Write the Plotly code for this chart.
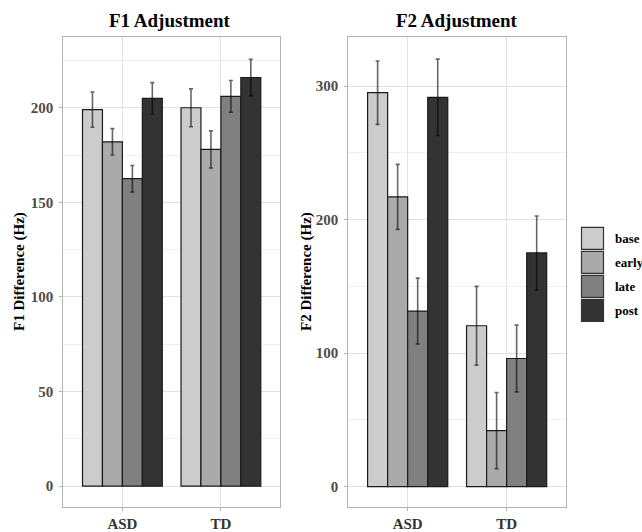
import plotly.graph_objects as go

groups = ["ASD", "TD"]
phases = ["base", "early", "late", "post"]
colors = ["#cccccc", "#aaaaaa", "#808080", "#333333"]

f1_values = {
    "base": [199, 200],
    "early": [182, 178],
    "late": [162.5, 206],
    "post": [205, 216],
}
f1_err = {
    "base": [9.3, 10],
    "early": [7, 9.8],
    "late": [7, 8.4],
    "post": [8.3, 9.6],
}
f2_values = {
    "base": [295, 120.5],
    "early": [217, 42],
    "late": [131.5, 96],
    "post": [291.5, 175],
}
f2_err = {
    "base": [23.7, 29.5],
    "early": [24.3, 28.5],
    "late": [24.7, 25],
    "post": [28.6, 27.7],
}

W, H = 642, 532
FONT = "Liberation Serif"

fig = go.Figure()

def add_panel(values, errs, xa, ya):
    for p, c in zip(phases, colors):
        fig.add_trace(go.Bar(
            x=groups, y=values[p], name=p,
            marker=dict(color=c, line=dict(color="#1a1a1a", width=1.2)),
            error_y=dict(type="data", array=errs[p], color="rgba(0,0,0,0.6)",
                         thickness=1.6, width=2),
            xaxis=xa, yaxis=ya, showlegend=False,
        ))

add_panel(f1_values, f1_err, "x", "y")
add_panel(f2_values, f2_err, "x2", "y2")

def px_x(v):
    return v / W

def px_y(v):
    return 1 - v / H

grid_major = "#e2e2e2"
grid_minor = "#efefef"
border = "#b3b3b3"

xcommon = dict(type="category", range=[-0.6, 1.6], showgrid=True, gridcolor=grid_major,
               gridwidth=1, showline=True, mirror=True, linecolor=border, linewidth=1,
               ticks="outside", ticklen=3, tickcolor=border, automargin=False,
               tickfont=dict(family=FONT, size=15, color="#333333", weight="bold"))
ycommon = dict(showgrid=True, gridcolor=grid_major, gridwidth=1, zeroline=False,
               showline=True, mirror=True, linecolor=border, linewidth=1,
               ticks="outside", ticklen=3, tickcolor=border, ticklabelstandoff=3,
               automargin=False,
               tickfont=dict(family=FONT, size=15, color="#4d4d4d", weight="bold"))

ydom = [px_y(507), px_y(37)]
fig.update_layout(
    width=W, height=H,
    margin=dict(l=0, r=0, t=0, b=0, autoexpand=False),
    paper_bgcolor="white", plot_bgcolor="white",
    barmode="group", bargap=0.19, bargroupgap=0,
    showlegend=False,
    xaxis=dict(domain=[px_x(63.3), px_x(280)], anchor="y", **xcommon),
    yaxis=dict(domain=ydom, anchor="x", range=[-11, 237.4], tickvals=[0, 50, 100, 150, 200],
               minor=dict(showgrid=True, gridcolor=grid_minor, gridwidth=0.8,
                          tickvals=[25, 75, 125, 175, 225]),
               **ycommon),
    xaxis2=dict(domain=[px_x(348.3), px_x(566)], anchor="y2", **xcommon),
    yaxis2=dict(domain=ydom, anchor="x2", range=[-15.2, 336.7], tickvals=[0, 100, 200, 300],
                minor=dict(showgrid=True, gridcolor=grid_minor, gridwidth=0.8,
                           tickvals=[50, 150, 250]),
                **ycommon),
)

ann = []
title_font = dict(family=FONT, size=19, color="black", weight="bold")
ann.append(dict(text="F1 Adjustment", x=px_x(170), y=px_y(20), xref="paper", yref="paper",
                showarrow=False, font=title_font, xanchor="center", yanchor="middle"))
ann.append(dict(text="F2 Adjustment", x=px_x(457), y=px_y(20), xref="paper", yref="paper",
                showarrow=False, font=title_font, xanchor="center", yanchor="middle"))
axis_font = dict(family=FONT, size=15, color="black", weight="bold")
ann.append(dict(text="F1 Difference (Hz)", x=px_x(19), y=px_y(272), xref="paper", yref="paper",
                showarrow=False, font=axis_font, textangle=-90, xanchor="center", yanchor="middle"))
ann.append(dict(text="F2 Difference (Hz)", x=px_x(306), y=px_y(272), xref="paper", yref="paper",
                showarrow=False, font=axis_font, textangle=-90, xanchor="center", yanchor="middle"))

# legend keys
shapes = []
key_top = 227.3
pitch = 24.0
kx0 = 581.5
for i, (p, c) in enumerate(zip(phases, colors)):
    y0 = key_top + i * pitch
    shapes.append(dict(type="rect", xref="paper", yref="paper",
                       x0=px_x(kx0), x1=px_x(kx0 + 22), y0=px_y(y0 + 22), y1=px_y(y0),
                       fillcolor=c, line=dict(color="#333333", width=1.2)))
    ann.append(dict(text=p, x=px_x(kx0 + 31), y=px_y(y0 + 11), xref="paper", yref="paper",
                    showarrow=False, xanchor="left", yanchor="middle",
                    font=dict(family=FONT, size=13, color="black", weight="bold")))

fig.update_layout(annotations=ann, shapes=shapes)
fig.write_html(
    "out.html",
    config={"displayModeBar": False},
    post_script="document.body.style.margin='0';document.body.style.overflow='hidden';",
)
